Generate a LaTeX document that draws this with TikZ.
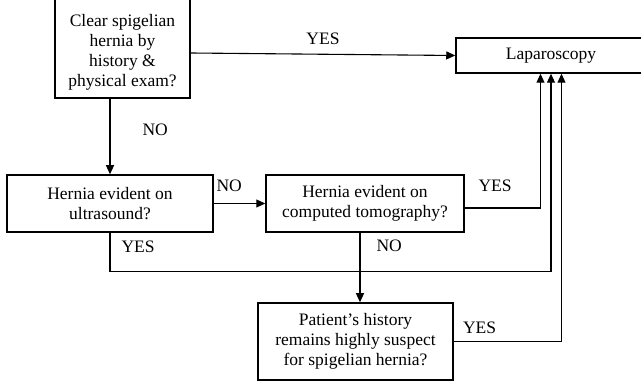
\documentclass[tikz,border=0pt]{standalone}
\usepackage{fontspec}
\setmainfont{Liberation Serif}
\usetikzlibrary{arrows.meta,positioning,fit}

\begin{document}
\begin{tikzpicture}[
  x=1pt,y=-1pt,
  font=\fontsize{17.5}{20}\selectfont,
  box/.style={draw,line width=1.5pt,align=center,inner sep=0pt},
  txt/.style={align=center,inner sep=0pt},
  ar/.style={-{Triangle[length=9pt,width=8pt]},line width=1.1pt},
  lbl/.style={inner sep=1pt}
]
\useasboundingbox (0,0) rectangle (641,382);

% first question, its frame runs off the top
\node[txt] (examtxt) at (122.5,52.5) {Clear spigelian\\ hernia by\\ history \&\\ physical exam?};
\node[box,fit={(55,-5) (190,98)}] (exam) {};

\node[box,minimum width=190pt,minimum height=35pt] (lap) at (551,55.5) {Laparoscopy};
\node[box,minimum width=206pt,minimum height=57pt] (us) at (110,203.5) {Hernia evident on\\ ultrasound?};
\node[box,minimum width=198pt,minimum height=57pt,right=51.5pt of us] (ct) {Hernia evident on\\ computed tomography?};
\node[box,minimum width=195pt,minimum height=77pt] (susp) at (355.5,341.5) {Patient's history\\ remains highly suspect\\ for spigelian hernia?};

\draw[ar] ([yshift=-6.5pt]exam.east) -- node[lbl,above=8pt] {YES} (lap.west);
\draw[ar] (exam.south -| us.north) -- node[lbl,right=31pt,pos=0.41] {NO} (us.north);
\draw[ar] (us.east) -- node[lbl,above=10pt,pos=0.3] {NO} (ct.west);
\draw[ar] ([yshift=-4.5pt]ct.east) -| node[lbl,above=15pt,pos=0.2] {YES} ([xshift=-10.5pt]lap.south);
\draw[ar] (us.south) -- node[lbl,right=10pt,pos=0.35] {YES} ++(0,39) -| (lap.south);
\draw[ar] ([xshift=-5pt]ct.south) -- node[lbl,right=15pt,pos=0.19] {NO} ([xshift=-5pt]ct.south |- susp.north);
\draw[ar] (susp.east) -| node[lbl,above=6pt,pos=0.12] {YES} ([xshift=10.5pt]lap.south);
\end{tikzpicture}
\end{document}
